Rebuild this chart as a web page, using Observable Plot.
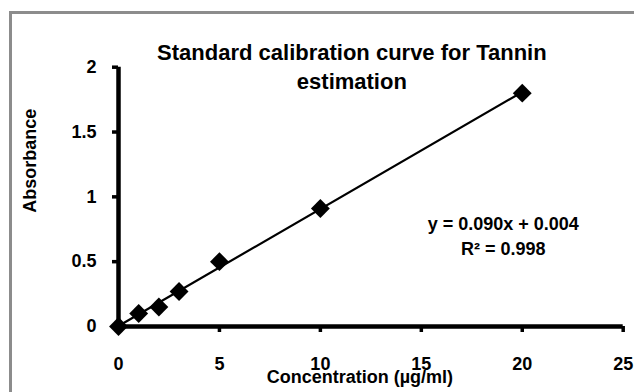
<!DOCTYPE html>
<html>
<head>
<meta charset="utf-8">
<script src="https://cdn.jsdelivr.net/npm/d3@7"></script>
<script src="https://cdn.jsdelivr.net/npm/@observablehq/plot@0.6"></script>
<style>
  html, body { margin: 0; padding: 0; background: #fff; overflow: hidden; }
  #wrap { position: relative; width: 634px; height: 392px; overflow: hidden; background: #fff; }
  #frame { position: absolute; left: 9px; top: 11px; width: 800px; height: 600px; border: 3px solid #8c8c8c; box-sizing: border-box; }
  #chart { position: absolute; left: 0; top: 0; }
</style>
</head>
<body>
<div id="wrap"><div id="frame"></div><div id="chart"></div></div>
<script>
// Data
const concentration = [0, 1, 2, 3, 5, 10, 20];            // µg/ml
const absorbance    = [0, 0.10, 0.15, 0.27, 0.50, 0.91, 1.80];
const xTicks = [0, 5, 10, 15, 20, 25];
const yTicks = [0, 0.5, 1, 1.5, 2];
const titleText = "Standard calibration curve for Tannin\nestimation";
const equationText = "y = 0.090x + 0.004\nR² = 0.998";
const xTitle = "Concentration (µg/ml)";
const yTitle = "Absorbance";

const data = concentration.map((c, i) => ({x: c, y: absorbance[i]}));
const font = "'Liberation Sans', Arial, sans-serif";

const chart = Plot.plot({
  width: 634,
  height: 392,
  marginLeft: 118,
  marginRight: 11.3,
  marginTop: 66.7,
  marginBottom: 66,
  style: {fontFamily: font, fontWeight: "bold", color: "#000", background: "transparent"},
  x: {domain: [0, 25]},
  y: {domain: [0, 2]},
  marks: [
    Plot.axisX({ticks: xTicks, tickSize: 6, tickPadding: 25, strokeWidth: 3.5, stroke: "#000", fontSize: 18, fontWeight: "bold", label: null, tickFormat: d => String(d)}),
    Plot.axisY({ticks: yTicks, tickSize: 6, tickPadding: 16, strokeWidth: 3.5, stroke: "#000", fontSize: 18, fontWeight: "bold", label: null, tickFormat: d => String(d)}),
    Plot.ruleY([0], {stroke: "#000", strokeWidth: 4.5}),
    Plot.ruleX([0], {stroke: "#000", strokeWidth: 4.5}),
    Plot.linearRegressionY(data, {x: "x", y: "y", stroke: "#000", strokeWidth: 2.2, ci: 0}),
    Plot.dot(data, {x: "x", y: "y", symbol: "diamond2", r: 8.5, fill: "#000", stroke: "none"}),
    Plot.text([titleText], {frameAnchor: "top", dx: -19, dy: -28.4, lineAnchor: "top", lineHeight: 1.33, fontSize: 22, fontWeight: "bold", fill: "#000"}),
    Plot.text([equationText], {frameAnchor: "top-right", textAnchor: "middle", dx: -120, dy: 145, lineAnchor: "top", lineHeight: 1.39, fontSize: 18, fontWeight: "bold", fill: "#000"}),
    Plot.text([xTitle], {frameAnchor: "bottom", dx: -11, dy: 51, lineAnchor: "middle", fontSize: 18, fontWeight: "bold", fill: "#000"}),
    Plot.text([yTitle], {frameAnchor: "left", rotate: -90, dx: -88, dy: 16, lineAnchor: "middle", fontSize: 18, fontWeight: "bold", fill: "#000"})
  ]
});
document.getElementById("chart").appendChild(chart);
</script>
</body>
</html>
